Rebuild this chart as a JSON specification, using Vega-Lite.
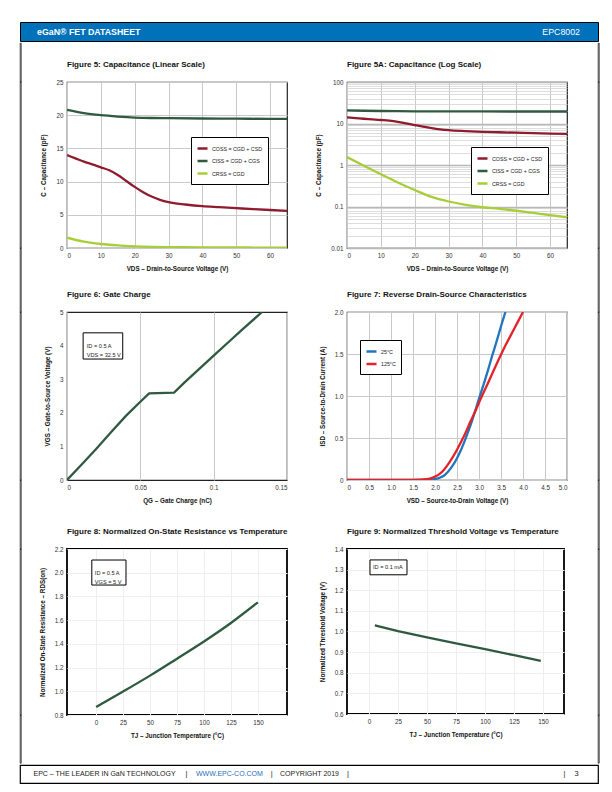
{
  "$schema": "https://vega.github.io/schema/vega-lite/v6.json",
  "padding": {"left": 19, "top": 21, "right": 0, "bottom": 0},
  "background": "white",
  "config": {
    "font": "Liberation Sans, Arial, sans-serif",
    "view": {"stroke": null},
    "concat": {"spacing": 0},
    "axis": {"labelFontSize": 6.3, "labelColor": "#333333", "titleFontSize": 6.3, "titleFontWeight": "bold", "titleColor": "#111111", "ticks": false, "domain": false, "labelPadding": 4, "labelOverlap": false, "gridColor": "#c9c9c9", "gridWidth": 1, "grid": false},
    "axisX": {"titlePadding": 7},
    "axisY": {"titlePadding": 9},
    "title": {"fontSize": 8, "fontWeight": "bold", "color": "#111111", "anchor": "start", "frame": "group", "offset": 10},
    "legend": {"labelFontSize": 5.3, "labelColor": "#222222", "symbolType": "stroke", "symbolSize": 100, "symbolStrokeWidth": 2.5, "strokeColor": "black", "fillColor": "white", "padding": 5, "rowPadding": 0.5, "labelOffset": 3, "title": null}
  },
  "datasets": {
    "cap": [
      {"s": "CISS = CGD + CGS", "v": 0, "c": 20.8}, {"s": "CISS = CGD + CGS", "v": 5, "c": 20.3}, {"s": "CISS = CGD + CGS", "v": 10, "c": 20.0}, {"s": "CISS = CGD + CGS", "v": 15, "c": 19.8}, {"s": "CISS = CGD + CGS", "v": 20, "c": 19.65}, {"s": "CISS = CGD + CGS", "v": 25, "c": 19.58}, {"s": "CISS = CGD + CGS", "v": 30, "c": 19.55}, {"s": "CISS = CGD + CGS", "v": 40, "c": 19.5}, {"s": "CISS = CGD + CGS", "v": 50, "c": 19.48}, {"s": "CISS = CGD + CGS", "v": 60, "c": 19.45}, {"s": "CISS = CGD + CGS", "v": 65, "c": 19.45},
      {"s": "COSS = CGD + CSD", "v": 0, "c": 14.0}, {"s": "COSS = CGD + CSD", "v": 2.5, "c": 13.5}, {"s": "COSS = CGD + CSD", "v": 5, "c": 13.0}, {"s": "COSS = CGD + CSD", "v": 7.5, "c": 12.6}, {"s": "COSS = CGD + CSD", "v": 10, "c": 12.15}, {"s": "COSS = CGD + CSD", "v": 12.5, "c": 11.7}, {"s": "COSS = CGD + CSD", "v": 15, "c": 11.0}, {"s": "COSS = CGD + CSD", "v": 17.5, "c": 10.1}, {"s": "COSS = CGD + CSD", "v": 20, "c": 9.2}, {"s": "COSS = CGD + CSD", "v": 22.5, "c": 8.4}, {"s": "COSS = CGD + CSD", "v": 25, "c": 7.75}, {"s": "COSS = CGD + CSD", "v": 27.5, "c": 7.25}, {"s": "COSS = CGD + CSD", "v": 30, "c": 6.9}, {"s": "COSS = CGD + CSD", "v": 35, "c": 6.55}, {"s": "COSS = CGD + CSD", "v": 40, "c": 6.3}, {"s": "COSS = CGD + CSD", "v": 45, "c": 6.15}, {"s": "COSS = CGD + CSD", "v": 50, "c": 6.0}, {"s": "COSS = CGD + CSD", "v": 55, "c": 5.85}, {"s": "COSS = CGD + CSD", "v": 60, "c": 5.72}, {"s": "COSS = CGD + CSD", "v": 65, "c": 5.6},
      {"s": "CRSS = CGD", "v": 0, "c": 1.55}, {"s": "CRSS = CGD", "v": 5, "c": 0.96}, {"s": "CRSS = CGD", "v": 10, "c": 0.6}, {"s": "CRSS = CGD", "v": 15, "c": 0.38}, {"s": "CRSS = CGD", "v": 20, "c": 0.25}, {"s": "CRSS = CGD", "v": 25, "c": 0.17}, {"s": "CRSS = CGD", "v": 30, "c": 0.132}, {"s": "CRSS = CGD", "v": 35, "c": 0.11}, {"s": "CRSS = CGD", "v": 40, "c": 0.096}, {"s": "CRSS = CGD", "v": 45, "c": 0.088}, {"s": "CRSS = CGD", "v": 50, "c": 0.079}, {"s": "CRSS = CGD", "v": 55, "c": 0.07}, {"s": "CRSS = CGD", "v": 60, "c": 0.062}, {"s": "CRSS = CGD", "v": 65, "c": 0.055}
    ],
    "gate": [
      {"q": 0, "vgs": 0}, {"q": 0.01, "vgs": 0.46}, {"q": 0.02, "vgs": 0.93}, {"q": 0.03, "vgs": 1.42}, {"q": 0.04, "vgs": 1.9}, {"q": 0.05, "vgs": 2.33}, {"q": 0.056, "vgs": 2.58}, {"q": 0.073, "vgs": 2.6}, {"q": 0.08, "vgs": 2.9}, {"q": 0.09, "vgs": 3.3}, {"q": 0.1, "vgs": 3.7}, {"q": 0.11, "vgs": 4.1}, {"q": 0.12, "vgs": 4.5}, {"q": 0.133, "vgs": 5.0}
    ],
    "rev": [
      {"t": "25°C", "vsd": 0, "isd": 0}, {"t": "25°C", "vsd": 1.5, "isd": 0}, {"t": "25°C", "vsd": 1.9, "isd": 0.005}, {"t": "25°C", "vsd": 2.0, "isd": 0.01}, {"t": "25°C", "vsd": 2.1, "isd": 0.025}, {"t": "25°C", "vsd": 2.2, "isd": 0.05}, {"t": "25°C", "vsd": 2.3, "isd": 0.1}, {"t": "25°C", "vsd": 2.4, "isd": 0.17}, {"t": "25°C", "vsd": 2.5, "isd": 0.26}, {"t": "25°C", "vsd": 2.6, "isd": 0.37}, {"t": "25°C", "vsd": 2.7, "isd": 0.5}, {"t": "25°C", "vsd": 2.8, "isd": 0.64}, {"t": "25°C", "vsd": 2.9, "isd": 0.8}, {"t": "25°C", "vsd": 3.0, "isd": 0.97}, {"t": "25°C", "vsd": 3.1, "isd": 1.13}, {"t": "25°C", "vsd": 3.2, "isd": 1.3}, {"t": "25°C", "vsd": 3.3, "isd": 1.48}, {"t": "25°C", "vsd": 3.4, "isd": 1.65}, {"t": "25°C", "vsd": 3.5, "isd": 1.83}, {"t": "25°C", "vsd": 3.6, "isd": 2.0},
      {"t": "125°C", "vsd": 0, "isd": 0}, {"t": "125°C", "vsd": 1.5, "isd": 0}, {"t": "125°C", "vsd": 1.8, "isd": 0.01}, {"t": "125°C", "vsd": 1.9, "isd": 0.02}, {"t": "125°C", "vsd": 2.0, "isd": 0.04}, {"t": "125°C", "vsd": 2.1, "isd": 0.07}, {"t": "125°C", "vsd": 2.2, "isd": 0.12}, {"t": "125°C", "vsd": 2.3, "isd": 0.19}, {"t": "125°C", "vsd": 2.4, "isd": 0.27}, {"t": "125°C", "vsd": 2.5, "isd": 0.36}, {"t": "125°C", "vsd": 2.6, "isd": 0.46}, {"t": "125°C", "vsd": 2.7, "isd": 0.57}, {"t": "125°C", "vsd": 2.8, "isd": 0.69}, {"t": "125°C", "vsd": 2.9, "isd": 0.8}, {"t": "125°C", "vsd": 3.0, "isd": 0.92}, {"t": "125°C", "vsd": 3.2, "isd": 1.15}, {"t": "125°C", "vsd": 3.4, "isd": 1.38}, {"t": "125°C", "vsd": 3.6, "isd": 1.6}, {"t": "125°C", "vsd": 3.8, "isd": 1.8}, {"t": "125°C", "vsd": 4.0, "isd": 2.0}
    ],
    "rds": [
      {"tj": 0, "r": 0.868}, {"tj": 25, "r": 0.998}, {"tj": 50, "r": 1.132}, {"tj": 75, "r": 1.275}, {"tj": 100, "r": 1.42}, {"tj": 125, "r": 1.576}, {"tj": 150, "r": 1.75}
    ],
    "vth": [
      {"tj": 5, "v": 1.03}, {"tj": 25, "v": 1.002}, {"tj": 50, "v": 0.972}, {"tj": 75, "v": 0.943}, {"tj": 100, "v": 0.914}, {"tj": 125, "v": 0.885}, {"tj": 148, "v": 0.857}
    ],
    "one": [{}],
    "none": []
  },
  "resolve": {"scale": {"color": "independent"}, "legend": {"color": "independent"}},
  "vconcat": [
    {
      "width": 578, "height": 19,
      "view": {"fill": "#0071bb", "stroke": "black", "strokeWidth": 1},
      "data": {"name": "one"},
      "layer": [
        {"mark": {"type": "text", "align": "left", "baseline": "middle", "color": "white", "fontWeight": "bold", "fontSize": 8.8},
         "encoding": {"text": {"value": "eGaN® FET DATASHEET"}, "x": {"datum": 17, "type": "quantitative", "scale": {"domain": [0, 578], "nice": false}, "axis": null}, "y": {"datum": 9.5, "type": "quantitative", "scale": {"domain": [0, 19], "nice": false}, "axis": null}}},
        {"mark": {"type": "text", "align": "right", "baseline": "middle", "color": "white", "fontSize": 8.8},
         "encoding": {"text": {"value": "EPC8002"}, "x": {"datum": 560, "type": "quantitative"}, "y": {"datum": 9.5, "type": "quantitative"}}}
      ]
    },
    {
      "columns": 7,
      "spacing": 0,
      "bounds": "flush",
      "align": "each",
      "resolve": {"scale": {"color": "independent"}, "legend": {"color": "independent"}},
      "concat": [
        {"width": 1, "height": 39, "view": {"stroke": "black", "strokeWidth": 0.7}, "data": {"name": "none"}, "mark": "point"},
        {"width": 0.001, "height": 0.001, "data": {"name": "none"}, "mark": "point"},
        {"width": 0.001, "height": 0.001, "data": {"name": "none"}, "mark": "point"},
        {"width": 0.001, "height": 0.001, "data": {"name": "none"}, "mark": "point"},
        {"width": 0.001, "height": 0.001, "data": {"name": "none"}, "mark": "point"},
        {"width": 0.001, "height": 0.001, "data": {"name": "none"}, "mark": "point"},
        {"width": 1, "height": 39, "view": {"stroke": "black", "strokeWidth": 0.7}, "data": {"name": "none"}, "mark": "point"},

        {"width": 1, "height": 166, "view": {"stroke": "black", "strokeWidth": 0.7}, "data": {"name": "none"}, "mark": "point"},
        {"width": 46, "height": 0.001, "data": {"name": "none"}, "mark": "point"},
        {
          "width": 220, "height": 166,
          "title": {"text": "Figure 5: Capacitance (Linear Scale)"},
          "view": {"stroke": "#222222", "strokeWidth": 1.2},
          "data": {"name": "cap"},
          "mark": {"type": "line", "strokeWidth": 2.3, "interpolate": "monotone", "clip": true},
          "encoding": {
            "x": {"field": "v", "type": "quantitative", "scale": {"domain": [0, 65], "nice": false}, "axis": {"values": [0, 10, 20, 30, 40, 50, 60], "grid": true, "title": "VDS – Drain-to-Source Voltage (V)"}},
            "y": {"field": "c", "type": "quantitative", "scale": {"domain": [0, 25], "nice": false}, "axis": {"values": [0, 5, 10, 15, 20, 25], "grid": true, "title": "C – Capacitance (pF)"}},
            "color": {"field": "s", "type": "nominal", "scale": {"domain": ["COSS = CGD + CSD", "CISS = CGD + CGS", "CRSS = CGD"], "range": ["#8e1b2e", "#2f5a40", "#a6ce39"]}, "legend": {"orient": "none", "legendX": 124, "legendY": 55}}
          }
        },
        {"width": 60, "height": 0.001, "data": {"name": "none"}, "mark": "point"},
        {
          "width": 220, "height": 166,
          "title": {"text": "Figure 5A: Capacitance (Log Scale)"},
          "view": {"stroke": "#222222", "strokeWidth": 1.2},
          "data": {"name": "cap"},
          "mark": {"type": "line", "strokeWidth": 2.3, "interpolate": "monotone", "clip": true},
          "encoding": {
            "x": {"field": "v", "type": "quantitative", "scale": {"domain": [0, 65], "nice": false}, "axis": {"values": [0, 10, 20, 30, 40, 50, 60], "grid": true, "title": "VDS – Drain-to-Source Voltage (V)"}},
            "y": {"field": "c", "type": "quantitative", "scale": {"type": "log", "domain": [0.01, 100], "nice": false}, "axis": {
              "values": [0.01, 0.02, 0.03, 0.04, 0.05, 0.06, 0.07, 0.08, 0.09, 0.1, 0.2, 0.3, 0.4, 0.5, 0.6, 0.7, 0.8, 0.9, 1, 2, 3, 4, 5, 6, 7, 8, 9, 10, 20, 30, 40, 50, 60, 70, 80, 90, 100],
              "labelExpr": "indexof([0.01, 0.1, 1, 10, 100], datum.value) >= 0 ? format(datum.value, '~g') : ''",
              "grid": true,
              "gridColor": {"condition": {"test": "indexof([0.01, 0.1, 1, 10, 100], datum.value) >= 0", "value": "#b8b8b8"}, "value": "#d4d4d4"},
              "gridWidth": {"condition": {"test": "indexof([0.01, 0.1, 1, 10, 100], datum.value) >= 0", "value": 1.6}, "value": 0.8},
              "title": "C – Capacitance (pF)"}},
            "color": {"field": "s", "type": "nominal", "scale": {"domain": ["COSS = CGD + CSD", "CISS = CGD + CGS", "CRSS = CGD"], "range": ["#8e1b2e", "#2f5a40", "#a6ce39"]}, "legend": {"orient": "none", "legendX": 124, "legendY": 65}}
          }
        },
        {"width": 31, "height": 0.001, "data": {"name": "none"}, "mark": "point"},
        {"width": 1, "height": 166, "view": {"stroke": "black", "strokeWidth": 0.7}, "data": {"name": "none"}, "mark": "point"},

        {"width": 1, "height": 64, "view": {"stroke": "black", "strokeWidth": 0.7}, "data": {"name": "none"}, "mark": "point"},
        {"width": 0.001, "height": 0.001, "data": {"name": "none"}, "mark": "point"},
        {"width": 0.001, "height": 0.001, "data": {"name": "none"}, "mark": "point"},
        {"width": 0.001, "height": 0.001, "data": {"name": "none"}, "mark": "point"},
        {"width": 0.001, "height": 0.001, "data": {"name": "none"}, "mark": "point"},
        {"width": 0.001, "height": 0.001, "data": {"name": "none"}, "mark": "point"},
        {"width": 1, "height": 64, "view": {"stroke": "black", "strokeWidth": 0.7}, "data": {"name": "none"}, "mark": "point"},

        {"width": 1, "height": 168, "view": {"stroke": "black", "strokeWidth": 0.7}, "data": {"name": "none"}, "mark": "point"},
        {"width": 0.001, "height": 0.001, "data": {"name": "none"}, "mark": "point"},
        {
          "width": 220, "height": 168,
          "title": {"text": "Figure 6: Gate Charge"},
          "view": {"stroke": "#222222", "strokeWidth": 1.2},
          "layer": [
            {
              "data": {"name": "gate"},
              "mark": {"type": "line", "strokeWidth": 2.3, "color": "#2f5a40", "clip": true},
              "encoding": {
                "x": {"field": "q", "type": "quantitative", "scale": {"domain": [0, 0.15], "nice": false}, "axis": {"values": [0, 0.05, 0.1, 0.15], "tickCount": 50, "format": "~g", "grid": true, "title": "QG – Gate Charge (nC)"}},
                "y": {"field": "vgs", "type": "quantitative", "scale": {"domain": [0, 5], "nice": false}, "axis": {"values": [0, 1, 2, 3, 4, 5], "tickCount": 50, "format": "d", "title": "VGS – Gate-to-Source Voltage (V)"}}
              }
            },
            {
              "data": {"name": "one"},
              "mark": {"type": "rect", "fill": "white", "stroke": "black", "strokeWidth": 1},
              "encoding": {"x": {"datum": 0.011}, "x2": {"datum": 0.038}, "y": {"datum": 4.38}, "y2": {"datum": 3.6}}
            },
            {
              "data": {"name": "one"},
              "mark": {"type": "text", "align": "left", "baseline": "middle", "fontSize": 5.6, "color": "#222222", "lineHeight": 9},
              "encoding": {"x": {"datum": 0.0135}, "y": {"datum": 4.0}, "text": {"value": ["ID = 0.5 A", "VDS = 32.5 V"]}}
            }
          ]
        },
        {"width": 0.001, "height": 0.001, "data": {"name": "none"}, "mark": "point"},
        {
          "width": 220, "height": 168,
          "title": {"text": "Figure 7: Reverse Drain-Source Characteristics"},
          "view": {"stroke": "#222222", "strokeWidth": 1.2},
          "data": {"name": "rev"},
          "mark": {"type": "line", "strokeWidth": 2.3, "interpolate": "monotone", "clip": true},
          "encoding": {
            "x": {"field": "vsd", "type": "quantitative", "scale": {"domain": [0, 5], "nice": false}, "axis": {"values": [0, 0.5, 1, 1.5, 2, 2.5, 3, 3.5, 4, 4.5, 5], "labelExpr": "datum.value == 0 ? '0' : format(datum.value, '.1f')", "grid": true, "title": "VSD – Source-to-Drain Voltage (V)"}},
            "y": {"field": "isd", "type": "quantitative", "scale": {"domain": [0, 2], "nice": false}, "axis": {"values": [0, 0.5, 1, 1.5, 2], "labelExpr": "datum.value == 0 ? '0' : format(datum.value, '.1f')", "grid": true, "title": "ISD – Source-to-Drain Current (A)"}},
            "color": {"field": "t", "type": "nominal", "scale": {"domain": ["25°C", "125°C"], "range": ["#2176bd", "#e42229"]}, "legend": {"orient": "none", "legendX": 13, "legendY": 28}}
          }
        },
        {"width": 0.001, "height": 0.001, "data": {"name": "none"}, "mark": "point"},
        {"width": 1, "height": 168, "view": {"stroke": "black", "strokeWidth": 0.7}, "data": {"name": "none"}, "mark": "point"},

        {"width": 1, "height": 69, "view": {"stroke": "black", "strokeWidth": 0.7}, "data": {"name": "none"}, "mark": "point"},
        {"width": 0.001, "height": 0.001, "data": {"name": "none"}, "mark": "point"},
        {"width": 0.001, "height": 0.001, "data": {"name": "none"}, "mark": "point"},
        {"width": 0.001, "height": 0.001, "data": {"name": "none"}, "mark": "point"},
        {"width": 0.001, "height": 0.001, "data": {"name": "none"}, "mark": "point"},
        {"width": 0.001, "height": 0.001, "data": {"name": "none"}, "mark": "point"},
        {"width": 1, "height": 69, "view": {"stroke": "black", "strokeWidth": 0.7}, "data": {"name": "none"}, "mark": "point"},

        {"width": 1, "height": 166, "view": {"stroke": "black", "strokeWidth": 0.7}, "data": {"name": "none"}, "mark": "point"},
        {"width": 0.001, "height": 0.001, "data": {"name": "none"}, "mark": "point"},
        {
          "width": 220, "height": 166,
          "title": {"text": "Figure 8: Normalized On-State Resistance vs Temperature"},
          "view": {"stroke": "black", "strokeWidth": 1.8},
          "layer": [
            {
              "data": {"name": "rds"},
              "mark": {"type": "line", "strokeWidth": 2.3, "color": "#2f5a40", "interpolate": "monotone", "clip": true},
              "encoding": {
                "x": {"field": "tj", "type": "quantitative", "scale": {"domain": [-27, 177], "nice": false, "zero": false}, "axis": {"values": [0, 25, 50, 75, 100, 125, 150], "tickCount": 50, "format": "d", "grid": true, "gridColor": "#eeeeee", "title": "TJ – Junction Temperature (°C)"}},
                "y": {"field": "r", "type": "quantitative", "scale": {"domain": [0.8, 2.2], "nice": false, "zero": false}, "axis": {"values": [0.8, 1.0, 1.2, 1.4, 1.6, 1.8, 2.0, 2.2], "tickCount": 50, "format": ".1f", "grid": true, "gridColor": "#eeeeee", "title": "Normalized On-State Resistance – RDS(on)"}}
              }
            },
            {
              "data": {"name": "one"},
              "mark": {"type": "rect", "fill": "white", "stroke": "black", "strokeWidth": 1},
              "encoding": {"x": {"datum": -4}, "x2": {"datum": 27.7}, "y": {"datum": 2.107}, "y2": {"datum": 1.896}}
            },
            {
              "data": {"name": "one"},
              "mark": {"type": "text", "align": "left", "baseline": "middle", "fontSize": 5.6, "color": "#222222", "lineHeight": 9},
              "encoding": {"x": {"datum": -1.2}, "y": {"datum": 2.0}, "text": {"value": ["ID = 0.5 A", "VGS = 5 V"]}}
            }
          ]
        },
        {"width": 0.001, "height": 0.001, "data": {"name": "none"}, "mark": "point"},
        {
          "width": 217, "height": 165,
          "title": {"text": "Figure 9: Normalized Threshold Voltage vs Temperature"},
          "view": {"stroke": "black", "strokeWidth": 1.8},
          "layer": [
            {
              "data": {"name": "vth"},
              "mark": {"type": "line", "strokeWidth": 2.3, "color": "#2f5a40", "clip": true},
              "encoding": {
                "x": {"field": "tj", "type": "quantitative", "scale": {"domain": [-19, 168], "nice": false, "zero": false}, "axis": {"values": [0, 25, 50, 75, 100, 125, 150], "tickCount": 50, "format": "d", "grid": true, "gridColor": "#eeeeee", "title": "TJ – Junction Temperature (°C)"}},
                "y": {"field": "v", "type": "quantitative", "scale": {"domain": [0.6, 1.4], "nice": false, "zero": false}, "axis": {"values": [0.6, 0.7, 0.8, 0.9, 1.0, 1.1, 1.2, 1.3, 1.4], "tickCount": 50, "format": ".1f", "grid": true, "gridColor": "#eeeeee", "title": "Normalized Threshold Voltage (V)"}}
              }
            },
            {
              "data": {"name": "one"},
              "mark": {"type": "rect", "fill": "white", "stroke": "black", "strokeWidth": 1},
              "encoding": {"x": {"datum": 0.8}, "x2": {"datum": 32.7}, "y": {"datum": 1.347}, "y2": {"datum": 1.275}}
            },
            {
              "data": {"name": "one"},
              "mark": {"type": "text", "align": "left", "baseline": "middle", "fontSize": 5.6, "color": "#222222"},
              "encoding": {"x": {"datum": 3.4}, "y": {"datum": 1.311}, "text": {"value": "ID = 0.1 mA"}}
            }
          ]
        },
        {"width": 0.001, "height": 0.001, "data": {"name": "none"}, "mark": "point"},
        {"width": 1, "height": 166, "view": {"stroke": "black", "strokeWidth": 0.7}, "data": {"name": "none"}, "mark": "point"},

        {"width": 1, "height": 48, "view": {"stroke": "black", "strokeWidth": 0.7}, "data": {"name": "none"}, "mark": "point"},
        {"width": 0.001, "height": 0.001, "data": {"name": "none"}, "mark": "point"},
        {"width": 0.001, "height": 0.001, "data": {"name": "none"}, "mark": "point"},
        {"width": 0.001, "height": 0.001, "data": {"name": "none"}, "mark": "point"},
        {"width": 0.001, "height": 0.001, "data": {"name": "none"}, "mark": "point"},
        {"width": 0.001, "height": 0.001, "data": {"name": "none"}, "mark": "point"},
        {"width": 1, "height": 48, "view": {"stroke": "black", "strokeWidth": 0.7}, "data": {"name": "none"}, "mark": "point"}
      ]
    },
    {
      "width": 578, "height": 18,
      "view": {"stroke": "black", "strokeWidth": 1.2},
      "data": {"name": "one"},
      "encoding": {"y": {"datum": 9, "type": "quantitative", "scale": {"domain": [0, 18], "nice": false}, "axis": null}},
      "layer": [
        {"mark": {"type": "text", "align": "left", "baseline": "middle", "fontSize": 7, "color": "#222222"},
         "encoding": {"text": {"value": "EPC – THE LEADER IN GaN TECHNOLOGY"}, "x": {"datum": 13.5, "type": "quantitative", "scale": {"domain": [0, 578], "nice": false}, "axis": null}}},
        {"mark": {"type": "text", "align": "center", "baseline": "middle", "fontSize": 7.5, "color": "#222222"},
         "encoding": {"text": {"value": "|"}, "x": {"datum": 166.5, "type": "quantitative"}}},
        {"mark": {"type": "text", "align": "left", "baseline": "middle", "fontSize": 7, "color": "#2a6ebb"},
         "encoding": {"text": {"value": "WWW.EPC-CO.COM"}, "x": {"datum": 176, "type": "quantitative"}}},
        {"mark": {"type": "text", "align": "center", "baseline": "middle", "fontSize": 7.5, "color": "#222222"},
         "encoding": {"text": {"value": "|"}, "x": {"datum": 251.6, "type": "quantitative"}}},
        {"mark": {"type": "text", "align": "left", "baseline": "middle", "fontSize": 7, "color": "#222222"},
         "encoding": {"text": {"value": "COPYRIGHT 2019"}, "x": {"datum": 260, "type": "quantitative"}}},
        {"mark": {"type": "text", "align": "center", "baseline": "middle", "fontSize": 7.5, "color": "#222222"},
         "encoding": {"text": {"value": "|"}, "x": {"datum": 328, "type": "quantitative"}}},
        {"mark": {"type": "text", "align": "center", "baseline": "middle", "fontSize": 7.5, "color": "#222222"},
         "encoding": {"text": {"value": "|"}, "x": {"datum": 544.5, "type": "quantitative"}}},
        {"mark": {"type": "text", "align": "center", "baseline": "middle", "fontSize": 7.5, "color": "#222222"},
         "encoding": {"text": {"value": "3"}, "x": {"datum": 556.6, "type": "quantitative"}}}
      ]
    }
  ]
}
